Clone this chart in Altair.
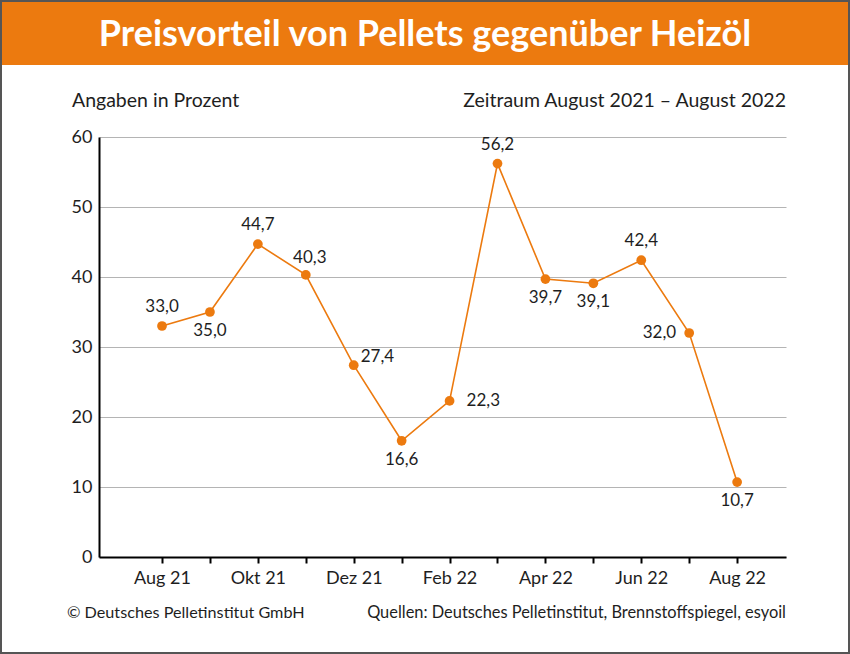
import altair as alt
import pandas as pd

# Monthly values, August 2021 to August 2022
months = ["Aug 21", "Sep 21", "Okt 21", "Nov 21", "Dez 21", "Jan 22", "Feb 22",
          "Mrz 22", "Apr 22", "Mai 22", "Jun 22", "Jul 22", "Aug 22"]
values = [33.0, 35.0, 44.7, 40.3, 27.4, 16.6, 22.3, 56.2, 39.7, 39.1, 42.4, 32.0, 10.7]
label_side = ["oben", "unten", "oben", "oben-rechts", "rechts-oben", "unten", "rechts",
              "oben", "unten", "unten", "oben", "links", "unten"]
y_ticks = [0, 10, 20, 30, 40, 50, 60]

ORANGE = "#EC7A0F"
TEXT = "#1e1e1e"
FONT = "Lato"

W, H = 687, 420
PAD_L, PAD_T, PAD_R, PAD_B = 99, 137, 64, 97
TOTAL_W = PAD_L + W + PAD_R

df = pd.DataFrame({
    "i": list(range(len(months))),
    "monat": months,
    "wert": values,
    "text": [f"{v:.1f}".replace(".", ",") for v in values],
    "seite": label_side,
})

label_js = "[" + ",".join(
    f"'{m}'" if k % 2 == 0 else "''" for k, m in enumerate(months)) + "]"

x = alt.X("i:Q",
          scale=alt.Scale(domain=[-1.315, 13.02], nice=False, zero=False),
          axis=alt.Axis(values=list(range(len(months))), labelExpr=f"{label_js}[datum.value]",
                        title=None, grid=False, domainColor="black", domainWidth=2,
                        tickColor="black", tickWidth=2, tickSize=6,
                        labelFontSize=18, labelColor=TEXT, labelFont=FONT,
                        labelPadding=6, labelFlush=False))
y = alt.Y("wert:Q",
          scale=alt.Scale(domain=[0, 60], nice=False),
          axis=alt.Axis(values=y_ticks, title=None, grid=True, gridColor="#b4b4b4",
                        gridWidth=1, domainColor="black", domainWidth=2, ticks=False,
                        labelFontSize=18, labelColor=TEXT, labelFont=FONT,
                        labelPadding=7))

base = alt.Chart(df)

line = base.mark_line(color=ORANGE, strokeWidth=1.6).encode(x=x, y=y)
points = base.mark_circle(color=ORANGE, opacity=1, size=95).encode(x=x, y=y)


def labels(side, **kw):
    return base.transform_filter(alt.datum.seite == side).mark_text(
        fontSize=17, font=FONT, color=TEXT, **kw
    ).encode(x=x, y=y, text="text:N")


text_layers = [
    labels("oben", dy=-19, align="center"),
    labels("unten", dy=19, align="center"),
    labels("oben-rechts", dy=-17, dx=4, align="center"),
    labels("rechts-oben", dy=-8, dx=7, align="left"),
    labels("rechts", dx=17, align="left"),
    labels("links", dx=-13, align="right"),
]

one = alt.Data(values=[{}])

header = alt.Chart(one).mark_rect(color=ORANGE).encode(
    x=alt.value(-PAD_L), x2=alt.value(TOTAL_W - PAD_L),
    y=alt.value(-PAD_T), y2=alt.value(65 - PAD_T))

title = alt.Chart(one).mark_text(
    text="Preisvorteil von Pellets gegenüber Heizöl", font=FONT, fontWeight="bold",
    fontSize=36, color="white", align="center", baseline="alphabetic"
).encode(x=alt.value(425 - PAD_L), y=alt.value(46 - PAD_T))

unit = alt.Chart(one).mark_text(
    text="Angaben in Prozent", font=FONT, fontSize=19.5, color=TEXT,
    align="left", baseline="middle"
).encode(x=alt.value(72 - PAD_L), y=alt.value(101 - PAD_T))

period = alt.Chart(one).mark_text(
    text="Zeitraum August 2021 – August 2022", font=FONT, fontSize=19.5, color=TEXT,
    align="right", baseline="middle"
).encode(x=alt.value(W), y=alt.value(101 - PAD_T))

copyright_ = alt.Chart(one).mark_text(
    text="© Deutsches Pelletinstitut GmbH", font=FONT, fontSize=16.2, color=TEXT,
    align="left", baseline="middle"
).encode(x=alt.value(67 - PAD_L), y=alt.value(613 - PAD_T))

sources = alt.Chart(one).mark_text(
    text="Quellen: Deutsches Pelletinstitut, Brennstoffspiegel, esyoil", font=FONT,
    fontSize=16.4, color=TEXT, align="right", baseline="middle"
).encode(x=alt.value(W), y=alt.value(613 - PAD_T))

frame = alt.Chart(one).mark_rect(fill=None, stroke="#555555", strokeWidth=2).encode(
    x=alt.value(-PAD_L + 1), x2=alt.value(TOTAL_W - PAD_L - 1),
    y=alt.value(-PAD_T + 1), y2=alt.value(654 - PAD_T - 1))

chart = alt.layer(
    header, title, unit, period, copyright_, sources,
    line, points, *text_layers, frame
).properties(
    width=W, height=H,
    padding={"left": PAD_L, "top": PAD_T, "right": PAD_R, "bottom": PAD_B},
    autosize=alt.AutoSizeParams(type="none"),
    background="white",
).configure_view(stroke=None)

chart.save("out.html", embed_options={"renderer": "svg", "actions": False})
